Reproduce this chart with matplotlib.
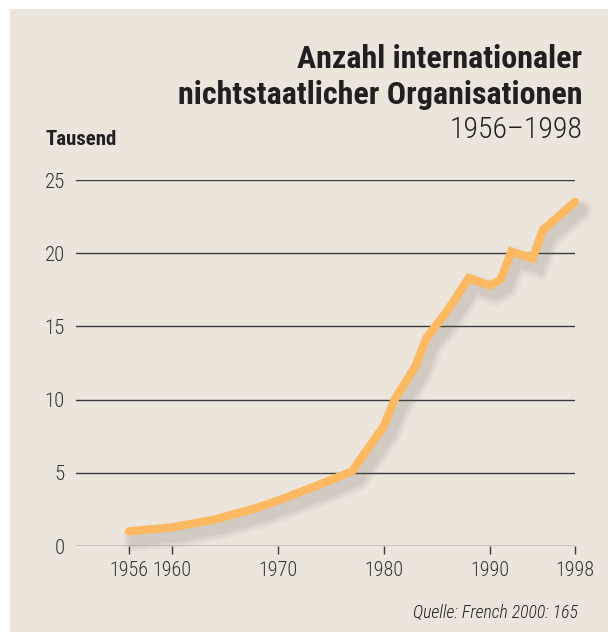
import matplotlib
matplotlib.use('Agg')
import matplotlib.pyplot as plt
import matplotlib.patches as patches
import matplotlib.patheffects as pe

years = [1956, 1960, 1964, 1968, 1970, 1972, 1975, 1977, 1980, 1981, 1983, 1984,
         1986, 1988, 1990, 1991, 1992, 1994, 1995, 1998]
values = [1.0, 1.27, 1.8, 2.6, 3.1, 3.65, 4.5, 5.1, 8.2, 10.0, 12.3, 14.2,
          16.1, 18.3, 17.8, 18.2, 20.1, 19.65, 21.6, 23.5]

x_ticks = [1956, 1960, 1970, 1980, 1990, 1998]
y_ticks = [0, 5, 10, 15, 20, 25]

bg = '#ebe5dc'
line_color = '#fdb862'
text_color = '#231f20'
grid_color = '#3a3a3a'
narrow = ['Roboto Condensed', 'Archivo Narrow', 'DejaVu Sans']

W, H = 608, 632
fig = plt.figure(figsize=(W / 100, H / 100), dpi=100)
fig.patch.set_facecolor('white')

# beige panel behind everything
panel = patches.Rectangle((10 / W, 0), 1 - 10 / W, 1 - 9 / H, transform=fig.transFigure,
                          facecolor=bg, edgecolor='none', zorder=-10)
fig.patches.append(panel)

ax = fig.add_axes([76 / W, 1 - 546 / H, (575 - 76) / W, (546 - 180) / H])
ax.set_facecolor('none')
ax.set_xlim(1951, 1998)
ax.set_ylim(0, 25)
for s in ax.spines.values():
    s.set_visible(False)

for v in y_ticks:
    ax.axhline(v, color=grid_color, lw=1.0, zorder=1)

ax.set_yticks(y_ticks)
ax.set_yticklabels([str(v) for v in y_ticks], family=narrow, fontweight='light',
                   fontsize=15, color='#333333')
ax.tick_params(axis='y', length=0, pad=8)
ax.set_xticks(x_ticks)
ax.set_xticklabels([str(v) for v in x_ticks], family=narrow, fontweight='light',
                   fontsize=14.5, color='#333333')
ax.tick_params(axis='x', length=6, width=1, color=grid_color, direction='out', pad=5)

# soft shadow under the line
shadow = []
for lw, a in [(18, 0.035), (15, 0.045), (12, 0.06), (9, 0.08)]:
    shadow.append(pe.SimpleLineShadow(offset=(4, -6), shadow_color='#6d6a66', alpha=a,
                                      rho=1, linewidth=lw))
shadow.append(pe.Normal())
ax.plot(years, values, color=line_color, lw=6, solid_capstyle='round',
        solid_joinstyle='miter', clip_on=False, zorder=3, path_effects=shadow)

fig.text(582 / W, 1 - 68 / H, 'Anzahl internationaler', ha='right', va='baseline',
         family=narrow, fontweight='bold', fontsize=23, color=text_color)
fig.text(582 / W, 1 - 104 / H, 'nichtstaatlicher Organisationen', ha='right', va='baseline',
         family=narrow, fontweight='bold', fontsize=23, color=text_color)
fig.text(582 / W, 1 - 138 / H, '1956\u20131998', ha='right', va='baseline',
         family=narrow, fontweight='light', fontsize=21.5, color=text_color)
fig.text(46 / W, 1 - 145 / H, 'Tausend', ha='left', va='baseline',
         family=narrow, fontweight='bold', fontsize=15, color=text_color)
fig.text(578 / W, 1 - 618 / H, 'Quelle: French 2000: 165', ha='right', va='baseline',
         family=narrow, fontstyle='italic', fontweight='light', fontsize=12.8, color=text_color)

fig.savefig('out.png', dpi=100, facecolor=fig.get_facecolor())
